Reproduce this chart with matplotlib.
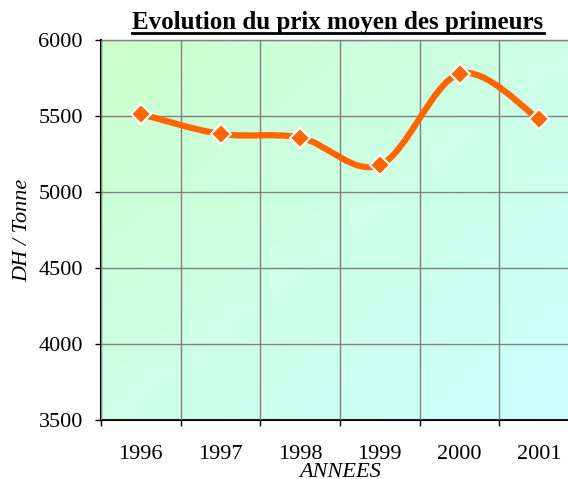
import numpy as np
import matplotlib
matplotlib.use("Agg")
import matplotlib.pyplot as plt
from matplotlib.path import Path
from matplotlib.patches import PathPatch
from matplotlib.colors import LinearSegmentedColormap

years = ["1996", "1997", "1998", "1999", "2000", "2001"]
prices = [5513, 5382, 5358, 5177, 5778, 5478]
y_ticks = [3500, 4000, 4500, 5000, 5500, 6000]
title = "Evolution du prix moyen des primeurs"
ylabel = "DH / Tonne"
xlabel = "ANNEES"

plt.rcParams['font.family'] = ['Liberation Serif', 'DejaVu Serif']

fig = plt.figure(figsize=(5.68, 4.79), dpi=100)
ax = fig.add_axes([101/568, (479-420)/479, 478/568, 380/479])

x = np.arange(len(years))
ax.set_xlim(-0.5, len(years) - 0.5)
ax.set_ylim(3500, 6000)

# gradient background: green top-left -> cyan bottom-right
g = np.linspace(0, 1, 200)
G = (g[None, :] + (1 - g)[:, None]) / 2.0
cmap = LinearSegmentedColormap.from_list("bg", ["#CCFFCC", "#CCFFFF"])
ax.imshow(G, extent=[-0.5, len(years) - 0.5, 3500, 6000], aspect='auto',
          cmap=cmap, origin='lower', zorder=0, vmin=0.0, vmax=1.0)

# grid
ax.set_yticks(y_ticks)
ax.set_xticks(np.arange(len(years) + 1) - 0.5)
ax.set_xticklabels([])
ax.set_xticks(x, minor=True)
ax.set_xticklabels(years, minor=True)
ax.grid(True, which='major', color='#808080', linewidth=1.0, zorder=1)
ax.set_axisbelow(False)

# smoothed line via Bezier path (Excel-like smoothing)
pts = np.column_stack([x, prices]).astype(float)
verts = [tuple(pts[0])]
codes = [Path.MOVETO]
n = len(pts)
for i in range(n - 1):
    p0 = pts[i - 1] if i > 0 else pts[i]
    p1 = pts[i]
    p2 = pts[i + 1]
    p3 = pts[i + 2] if i + 2 < n else pts[i + 1]
    c1 = p1 + (p2 - p0) / 6.0
    c2 = p2 - (p3 - p1) / 6.0
    verts += [tuple(c1), tuple(c2), tuple(p2)]
    codes += [Path.CURVE4, Path.CURVE4, Path.CURVE4]
path = Path(verts, codes)
ax.add_patch(PathPatch(path, facecolor='none', edgecolor='#FF6600',
                       linewidth=4.5, capstyle='round', joinstyle='round', zorder=3))
ax.plot(x, prices, linestyle='none', marker='D', markersize=10,
        markerfacecolor='#FF6600', markeredgecolor='white', markeredgewidth=1.5,
        zorder=4, clip_on=False)

for s in ['top', 'right']:
    ax.spines[s].set_color('#808080')
    ax.spines[s].set_linewidth(1.0)
for s in ['left', 'bottom']:
    ax.spines[s].set_color('black')
    ax.spines[s].set_linewidth(1.5)

ax.tick_params(axis='y', which='major', direction='out', length=4, width=1,
               labelsize=16, pad=9, color='black')
ax.tick_params(axis='x', which='major', direction='out', length=4, width=1,
               color='black', labelbottom=False)
ax.tick_params(axis='x', which='minor', length=0, labelsize=16, pad=18)

ax.set_ylabel(ylabel, fontsize=16, style='italic')
ax.yaxis.set_label_coords(-0.143, 0.5)
ax.set_xlabel(xlabel, fontsize=16, style='italic', va='top')
ax.xaxis.set_label_coords(0.5, -0.113)

t = fig.text(338/568, 1 - 23/479, title, ha='center', va='center',
             fontsize=18, fontweight='bold')
fig.canvas.draw()
bb = t.get_window_extent()
y_ul = 1 - 33/479
fig.add_artist(plt.Line2D([bb.x0 / fig.bbox.width, bb.x1 / fig.bbox.width],
                          [y_ul, y_ul],
                          color='black', linewidth=2.0, transform=fig.transFigure))

fig.savefig("out.png", dpi=100)
